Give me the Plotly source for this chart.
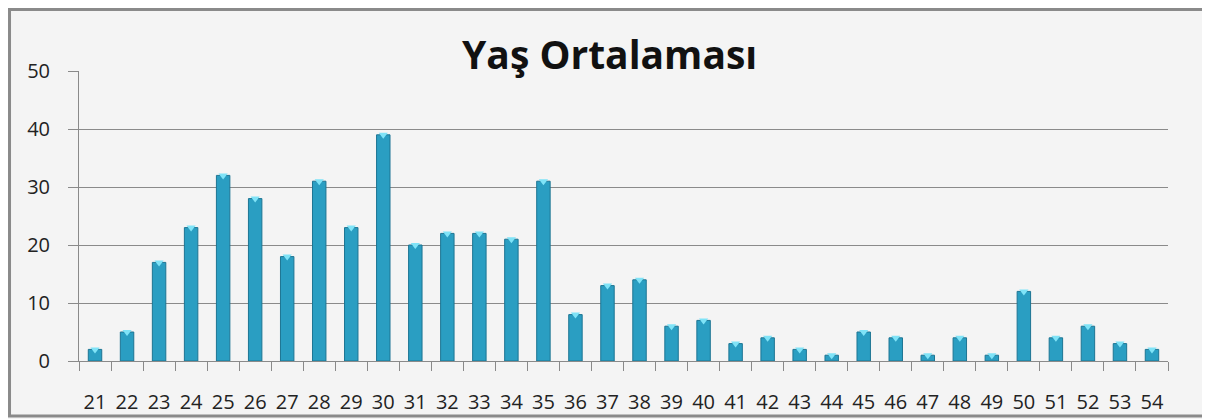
import plotly.graph_objects as go

ages = [str(a) for a in range(21, 55)]
counts = [2, 5, 17, 23, 32, 28, 18, 31, 23, 39, 20, 22, 22, 21, 31, 8, 13, 14, 6, 7,
          3, 4, 2, 1, 5, 4, 1, 4, 1, 12, 4, 6, 3, 2]
y_ticks = [0, 10, 20, 30, 40, 50]
title_text = "Yaş Ortalaması"

FONT = "Open Sans"
GRID = "#8a8a8a"

fig = go.Figure()
fig.add_trace(go.Bar(
    x=ages, y=counts,
    marker=dict(color="#2a9ec2", line=dict(color="#1d7593", width=1)),
    width=0.42,
    hoverinfo="x+y",
))
fig.add_trace(go.Scatter(
    x=ages, y=counts, mode="markers",
    marker=dict(symbol="triangle-down", size=8, color="#7fe3f7", line=dict(width=0)),
    hoverinfo="skip", showlegend=False,
))

fig.update_layout(
    width=1202, height=411,
    margin=dict(l=71, r=42, t=63, b=58),
    paper_bgcolor="#f4f4f4", plot_bgcolor="#f4f4f4",
    showlegend=False,
    font=dict(family=FONT, size=20, color="#222"),
    xaxis=dict(
        type="category", range=[-0.5, len(ages) - 0.5],
        tickson="boundaries", ticks="outside", ticklen=9,
        tickcolor=GRID, tickwidth=1, showgrid=False,
        showline=True, linecolor=GRID, linewidth=1,
        tickfont=dict(family=FONT, size=20, color="#222"),
        tickangle=0, automargin=False,
        ticklabelstandoff=23,
    ),
    yaxis=dict(
        range=[0, 50], tickvals=y_ticks, showgrid=True, gridcolor=GRID, gridwidth=1,
        ticks="outside", ticklen=10, tickcolor=GRID, tickwidth=1,
        showline=True, linecolor=GRID, linewidth=1, zeroline=False,
        tickfont=dict(family=FONT, size=20, color="#222"),
        automargin=False,
        ticklabelstandoff=14,
    ),
    annotations=[dict(
        text="<b>" + title_text + "</b>", xref="paper", yref="paper",
        x=0.4876, y=1.0, xanchor="center", yanchor="bottom", yshift=-11,
        showarrow=False,
        font=dict(family=FONT, size=39, color="#111"),
    )],
    shapes=[dict(
        type="rect", xref="paper", yref="paper",
        x0=-0.0638, x1=1.2, y0=-0.1897, y1=1.212,
        line=dict(color="#8a8a8a", width=3), fillcolor="rgba(0,0,0,0)", layer="below",
    )],
)

fig.write_html("out.html")
